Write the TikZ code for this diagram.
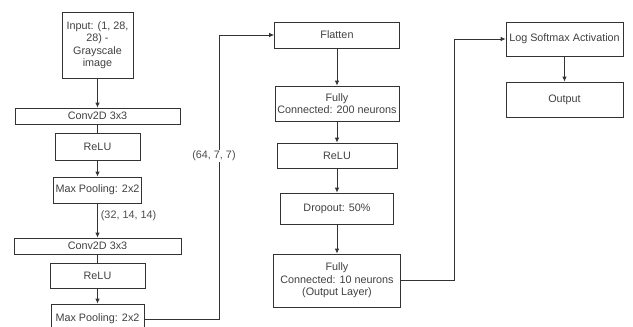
\documentclass[tikz,border=0pt]{standalone}
\usepackage{fontspec}
\setmainfont{Liberation Sans}
\usetikzlibrary{arrows.meta}
\begin{document}
\begin{tikzpicture}[x=1pt,y=-1pt,
  box/.style={draw=black!80, line width=0.8pt, rectangle, inner sep=0pt, align=center,
    text=black!75, font=\fontsize{10.8}{12.5}\selectfont},
  arr/.style={draw=black!80, line width=0.8pt, -{Latex[length=5pt,width=4.5pt]}},
  ln/.style={draw=black!80, line width=0.8pt},
  lbl/.style={text=black!70, font=\fontsize{10.8}{12.5}\selectfont, inner sep=1pt}]
\useasboundingbox (0,0) rectangle (633,327);
\clip (0,0) rectangle (633,327);
% left column
\node[box, minimum width=71pt, minimum height=66pt] (inp) at (97.5,45) {Input: (1, 28,\\28) -\\Grayscale\\image};
\node[box, minimum width=165pt, minimum height=16pt] (conv1) at (97.5,116) {Conv2D 3x3};
\node[box, minimum width=85pt, minimum height=27pt] (relu1) at (97.5,146.5) {ReLU};
\node[box, minimum width=88pt, minimum height=26pt] (mp1) at (97.5,190) {Max Pooling: 2x2};
\node[box, minimum width=167pt, minimum height=16pt] (conv2) at (97.5,246) {Conv2D 3x3};
\node[box, minimum width=95pt, minimum height=25pt] (relu2) at (97.5,275.5) {ReLU};
\node[box, minimum width=93pt, minimum height=30pt] (mp2) at (97.5,319) {Max Pooling: 2x2};
% middle column
\node[box, minimum width=125pt, minimum height=26pt] (flat) at (337,35) {Flatten};
\node[box, minimum width=124pt, minimum height=35pt] (fc200) at (337,103.5) {Fully\\Connected: 200 neurons};
\node[box, minimum width=120pt, minimum height=25pt] (relu3) at (337,155.5) {ReLU};
\node[box, minimum width=113pt, minimum height=31pt] (drop) at (337,208.5) {Dropout: 50\%};
\node[box, minimum width=127pt, minimum height=53pt] (fc10) at (337,280.5) {Fully\\Connected: 10 neurons\\(Output Layer)};
% right column
\node[box, minimum width=117pt, minimum height=34pt] (logsm) at (564.5,39) {Log Softmax Activation};
\node[box, minimum width=117pt, minimum height=35pt] (out) at (564.5,99.5) {Output};
\coordinate (c1) at (219,0);
\coordinate (c2) at (454,0);
% connectors
\draw[arr] (inp) -- (conv1);
\draw[ln] (conv1) -- (relu1);
\draw[arr] (relu1) -- (mp1);
\draw[arr] (mp1) -- node[lbl, pos=0.35, anchor=west, xshift=2pt] {(32, 14, 14)} (conv2);
\draw[ln] (conv2) -- (relu2);
\draw[arr] (relu2) -- (mp2);
\draw[arr] (mp2.east) -- (mp2.east -| c1) -- node[lbl, pos=0.574, xshift=-5pt, fill=white] {(64, 7, 7)} (c1 |- flat.west) -- (flat.west);
\draw[arr] (flat) -- (fc200);
\draw[arr] (fc200) -- (relu3);
\draw[arr] (relu3) -- (drop);
\draw[arr] (drop) -- (fc10);
\draw[arr] (fc10.east) -- (fc10.east -| c2) -- (c2 |- logsm.west) -- (logsm.west);
\draw[arr] (logsm) -- (out);
\end{tikzpicture}
\end{document}
